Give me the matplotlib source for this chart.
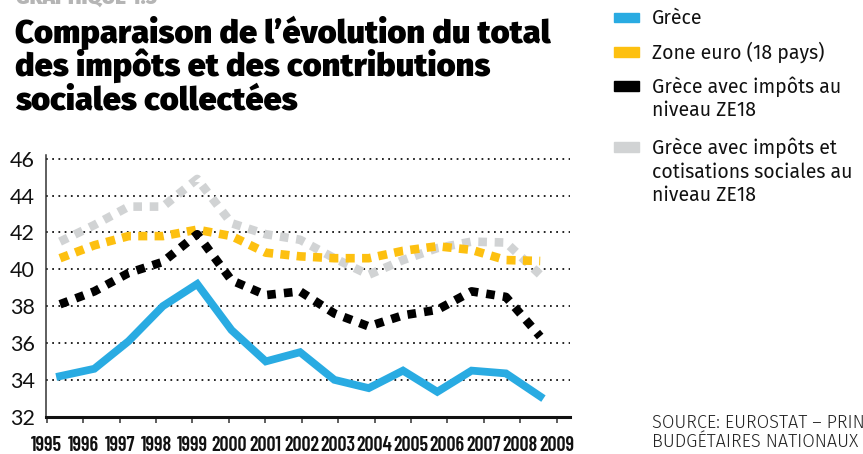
import numpy as np
import matplotlib
matplotlib.use("Agg")
import matplotlib.pyplot as plt
from matplotlib.patches import Rectangle

# données (en % du PIB)
annees = np.arange(1995, 2010)
grece = [34.2, 34.6, 36.1, 38.0, 39.2, 36.7, 35.0, 35.5, 34.0, 33.55, 34.5, 33.35, 34.5, 34.35, 33.1]
zone_euro = [40.6, 41.3, 41.8, 41.8, 42.15, 41.8, 40.9, 40.7, 40.6, 40.6, 41.0, 41.25, 41.05, 40.5, 40.45]
grece_impots_ze = [38.1, 38.8, 39.8, 40.4, 41.9, 39.4, 38.6, 38.8, 37.6, 36.9, 37.5, 37.8, 38.8, 38.5, 36.35]
grece_impots_cotis_ze = [41.5, 42.4, 43.4, 43.4, 44.9, 42.5, 41.9, 41.6, 40.6, 39.7, 40.5, 41.15, 41.5, 41.45, 39.7]

noms = ["Grèce", "Zone euro (18 pays)", "Grèce avec impôts au\nniveau ZE18",
        "Grèce avec impôts et\ncotisations sociales au\nniveau ZE18"]
couleurs = ["#29ABE2", "#FDC010", "#000000", "#D1D3D4"]
y_ticks = [32, 34, 36, 38, 40, 42, 44, 46]
x_labels = [str(a) for a in range(1995, 2010)]

W, H = 863, 454
fig = plt.figure(figsize=(W / 100, H / 100), dpi=100)

def fx(px):
    return px / W

def fy(py):
    return 1 - py / H

# axes : 1995 (donnée) à x=60px, 1 an = 34.3px
ax = fig.add_axes([fx(46), fy(416.7), fx(570 - 46), (416.7 - 155) / H])
unite = 34.3
ax.set_xlim(1995 - 14 / unite, 1995 + (570 - 60) / unite)
ax.set_ylim(32, 46.2)

# séries
lw_pt = 6.2
ax.plot(annees, grece_impots_cotis_ze, color=couleurs[3], lw=lw_pt,
        dashes=(1.0, 0.9), dash_capstyle="butt", zorder=3)
ax.plot(annees, zone_euro, color=couleurs[1], lw=lw_pt,
        dashes=(1.05, 0.85), dash_capstyle="butt", zorder=4)
ax.plot(annees, grece_impots_ze, color=couleurs[2], lw=lw_pt,
        dashes=(1.0, 0.95), dash_capstyle="butt", zorder=5)
ax.plot(annees, grece, color=couleurs[0], lw=5.6, solid_joinstyle="miter", zorder=6)

# grille pointillée
for v in y_ticks[1:]:
    ax.axhline(v, color="#222222", lw=1.4, linestyle=(0, (0.9, 2.3)), zorder=1)

# axes et graduations
for s in ["top", "right"]:
    ax.spines[s].set_visible(False)
ax.spines["left"].set_linewidth(1.1)
ax.spines["left"].set_color("#333333")
ax.spines["bottom"].set_linewidth(2.2)
ax.spines["bottom"].set_color("#111111")

ax.set_yticks(y_ticks)
ax.set_yticklabels([str(v) for v in y_ticks], fontsize=15.5, family=["Lato", "DejaVu Sans"],
                   color="#111111")
ax.tick_params(axis="y", length=0, pad=8)

pas = 36.43 / unite
ticks_x = [1995 + (46.7 - 60) / unite + k * pas for k in range(len(x_labels))]
ax.set_xticks(ticks_x)
ax.set_xticklabels(x_labels, fontsize=14.5, fontweight=600,
                   family=["Barlow Condensed", "Roboto Condensed", "DejaVu Sans"],
                   color="#111111")
ax.tick_params(axis="x", length=4.5, width=1.1, color="#333333", pad=9.5)

# titre
police_titre = ["Fira Sans", "Roboto", "DejaVu Sans"]
fig.text(fx(16), fy(4), "GRAPHIQUE 1.5", fontsize=15, fontweight=900,
         color="#B5B5B5", va="baseline", family=police_titre)
titre = ["Comparaison de l’évolution du total", "des impôts et des contributions",
         "sociales collectées"]
for i, ligne in enumerate(titre):
    fig.text(fx(15), fy(43 + i * 33), ligne, fontsize=23.5, fontweight=900,
             color="#000000", va="baseline", family=police_titre)

# légende
police = ["Fira Sans", "Open Sans", "DejaVu Sans"]
lignes_base = [24, 58.5, 92.5, 153.5]
for nom, c, yb in zip(noms, couleurs, lignes_base):
    fig.patches.append(Rectangle((fx(614), fy(yb - 2)), fx(25), 9 / H, color=c,
                                 transform=fig.transFigure, figure=fig))
    for j, morceau in enumerate(nom.split("\n")):
        fig.text(fx(652), fy(yb + j * 24), morceau, fontsize=14, color="#111111",
                 va="baseline", family=police)

# source
fig.text(fx(652), fy(428), "SOURCE: EUROSTAT – PRINCIPAUX AGRÉGATS", fontsize=13,
         fontweight=300, color="#222222", va="baseline", family=police)
fig.text(fx(652), fy(447), "BUDGÉTAIRES NATIONAUX", fontsize=13,
         fontweight=300, color="#222222", va="baseline", family=police)

fig.savefig("out.png", dpi=100)
